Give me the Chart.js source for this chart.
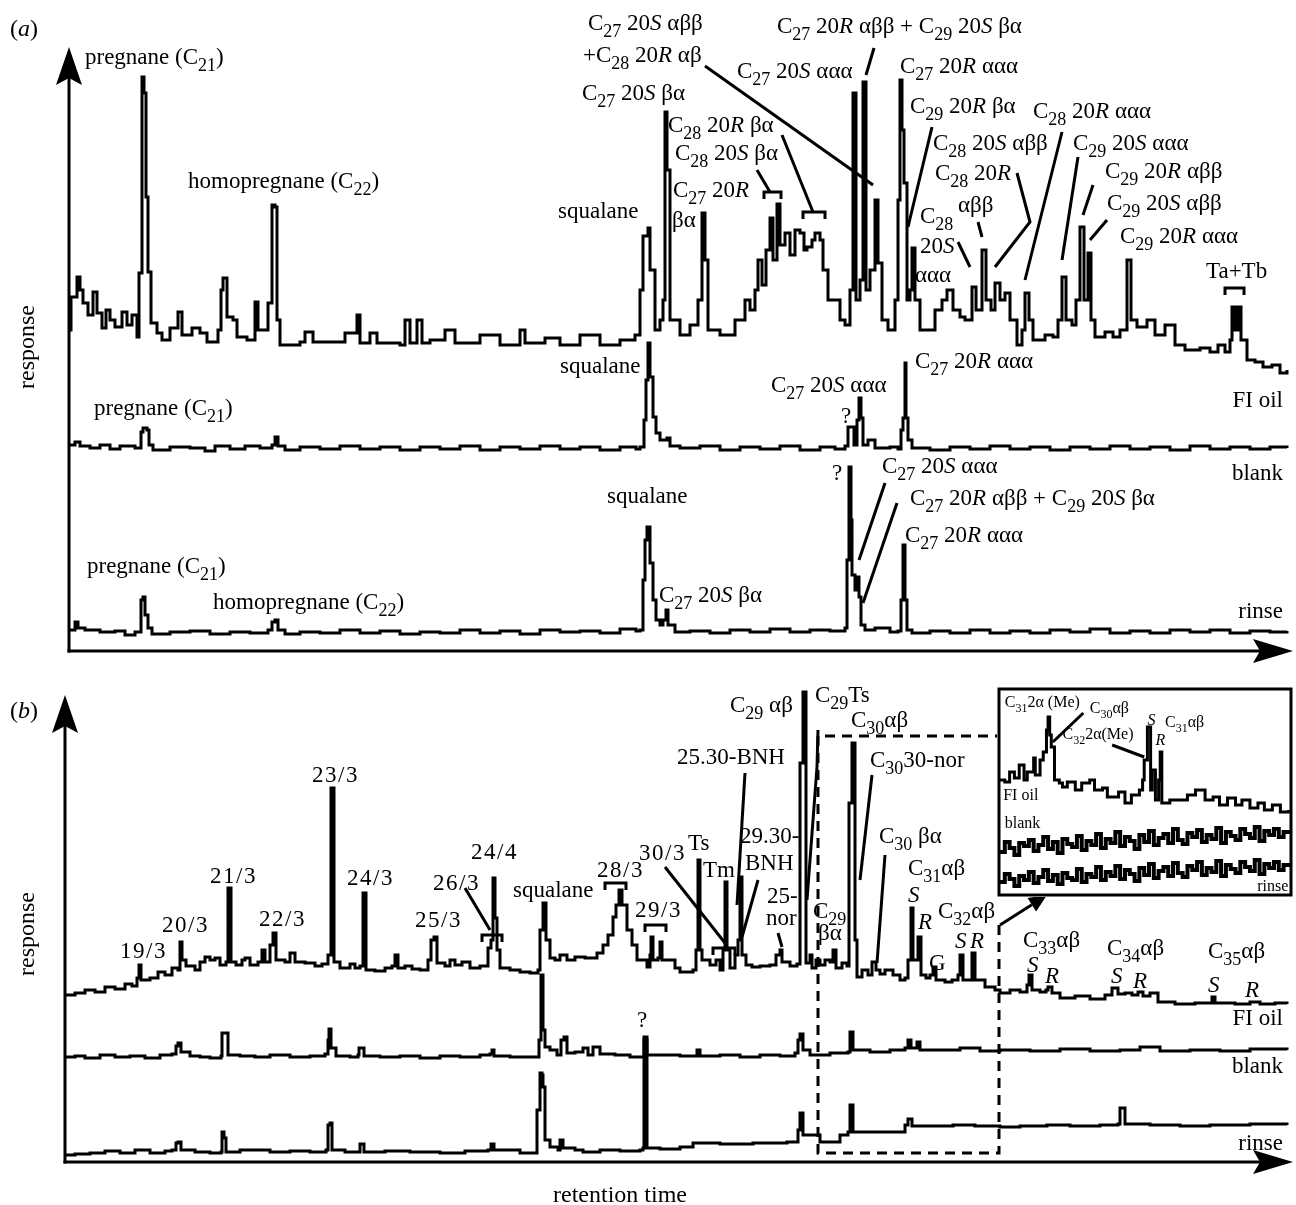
<!DOCTYPE html>
<html><head><meta charset="utf-8">
<script src="https://cdn.jsdelivr.net/npm/chart.js@4.4.1/dist/chart.umd.min.js"></script>
<style>
html,body{margin:0;padding:0;background:#fff;}
#wrap{position:relative;width:1296px;height:1205px;overflow:hidden;background:#fff;}
canvas{position:absolute;}
</style></head><body>
<div id="wrap">
<canvas id="ca" width="1296" height="668" style="left:0;top:0"></canvas>
<canvas id="cb" width="1296" height="537" style="left:0;top:668px"></canvas>
<canvas id="ci" width="298" height="212" style="left:996px;top:686px"></canvas>
</div>
<script>
// ---------- Panel (a): steranes, [retention time, response] ----------
const aOil = [[70,321],[71,354],[77,374],[80,361],[83,348],[88,336],[93,359],[97,338],[102,323],[106,341],[110,331],[115,324],[122,339],[127,326],[132,336],[137,314],[139,378],[142,574],[144,558],[146,454],[148,379],[151,328],[157,318],[162,311],[170,323],[178,339],[182,316],[192,323],[200,318],[207,309],[218,321],[221,361],[223,373],[227,334],[233,331],[237,314],[247,311],[255,349],[258,321],[268,348],[272,446],[275,444],[277,331],[280,306],[300,309],[305,319],[313,309],[333,309],[345,318],[357,336],[360,308],[370,318],[377,308],[400,306],[405,331],[410,308],[417,331],[422,308],[430,311],[445,321],[455,308],[480,316],[500,306],[520,321],[525,308],[545,313],[560,306],[580,316],[600,306],[620,311],[635,316],[640,361],[643,415],[648,423],[650,381],[655,321],[660,331],[663,351],[665,539],[667,481],[670,331],[680,316],[690,326],[698,351],[702,438],[705,391],[708,321],[720,316],[735,331],[745,351],[750,341],[755,361],[758,391],[762,366],[766,401],[770,433],[773,391],[777,447],[780,406],[785,418],[790,396],[795,421],[800,418],[804,401],[807,404],[812,411],[815,418],[820,411],[823,381],[828,351],[835,351],[840,331],[845,326],[850,361],[853,558],[856,351],[860,371],[863,569],[866,361],[870,381],[875,451],[878,388],[882,331],[888,321],[895,351],[898,451],[900,571],[902,521],[904,468],[907,351],[910,361],[912,403],[915,351],[920,321],[925,321],[935,341],[942,351],[947,361],[953,341],[960,334],[965,331],[972,364],[976,341],[982,401],[986,351],[991,341],[995,368],[1000,351],[1005,358],[1010,331],[1017,306],[1022,321],[1025,358],[1029,331],[1033,311],[1045,316],[1053,314],[1058,331],[1062,374],[1066,331],[1072,326],[1076,351],[1080,424],[1084,351],[1088,398],[1091,331],[1095,314],[1105,319],[1113,314],[1120,321],[1127,391],[1131,331],[1137,324],[1147,331],[1155,316],[1165,326],[1175,306],[1185,301],[1200,303],[1210,299],[1218,306],[1225,299],[1230,311],[1232,344],[1235,321],[1238,344],[1241,311],[1247,291],[1255,289],[1263,284],[1272,286],[1280,278],[1287,281]];
const aBlank = [[70,206],[75,209],[80,205],[90,203],[100,206],[110,202],[120,205],[135,203],[141,219],[143,223],[147,221],[149,206],[153,201],[170,204],[190,203],[205,200],[215,205],[230,202],[245,205],[260,203],[272,206],[275,214],[278,205],[285,201],[300,204],[320,202],[340,205],[360,202],[380,204],[400,201],[420,204],[440,202],[460,205],[480,201],[500,204],[520,202],[540,205],[560,202],[580,204],[600,201],[620,204],[636,202],[640,204],[644,231],[646,271],[648,308],[650,274],[653,234],[656,218],[660,211],[667,213],[670,205],[680,203],[700,205],[720,201],[740,204],[760,202],[780,205],[800,201],[820,204],[835,202],[845,205],[848,224],[852,224],[854,206],[857,231],[859,253],[861,233],[863,206],[868,211],[875,203],[890,204],[898,202],[901,221],[903,233],[905,288],[906,233],[908,211],[912,203],[930,201],[950,204],[970,202],[990,205],[1010,202],[1030,204],[1050,201],[1070,204],[1090,202],[1110,205],[1130,202],[1150,204],[1170,201],[1190,205],[1210,202],[1230,204],[1250,202],[1270,204],[1287,203]];
const aRinse = [[70,21],[75,29],[78,23],[85,21],[100,19],[115,20],[125,16],[135,19],[141,51],[143,54],[145,36],[148,23],[152,17],[170,19],[190,20],[210,17],[230,19],[250,18],[268,21],[272,29],[275,31],[278,21],[285,17],[300,19],[320,18],[340,21],[360,18],[380,20],[400,17],[420,19],[440,18],[460,21],[480,18],[500,20],[520,17],[540,21],[560,19],[580,20],[600,18],[620,22],[636,20],[640,21],[643,71],[645,111],[647,124],[650,88],[653,51],[656,31],[660,26],[663,31],[666,41],[668,26],[675,19],[690,20],[710,18],[730,21],[750,19],[770,22],[790,19],[810,21],[830,20],[845,23],[847,91],[849,184],[851,131],[852,76],[855,61],[857,74],[859,54],[861,26],[865,21],[875,23],[890,19],[898,20],[901,51],[903,106],[905,51],[907,21],[912,18],[930,20],[950,18],[970,21],[990,18],[1010,20],[1030,18],[1050,21],[1070,19],[1090,22],[1110,18],[1130,20],[1150,18],[1170,21],[1190,19],[1210,21],[1230,18],[1250,20],[1270,19],[1287,20]];

// ---------- Panel (b): terpanes / hopanes ----------
const bOil = [[66,167],[75,169],[85,172],[95,170],[105,175],[115,173],[125,178],[132,176],[137,184],[139,197],[141,182],[150,184],[158,190],[165,187],[172,194],[178,192],[180,220],[182,202],[186,196],[195,192],[200,200],[205,205],[210,202],[215,204],[220,197],[226,200],[228,274],[231,200],[236,197],[242,202],[245,204],[250,197],[258,200],[262,212],[265,200],[270,217],[273,229],[276,202],[285,200],[290,209],[295,200],[305,199],[315,196],[322,198],[328,207],[331,374],[334,200],[340,194],[350,198],[355,194],[360,196],[363,269],[366,192],[375,191],[385,194],[392,196],[395,207],[398,194],[405,196],[412,193],[420,192],[428,202],[431,222],[434,225],[437,199],[445,196],[450,202],[455,197],[462,200],[470,194],[480,196],[486,196],[488,214],[491,222],[493,284],[495,244],[497,212],[500,194],[510,192],[520,190],[530,189],[538,192],[540,232],[543,259],[546,222],[550,204],[555,202],[560,207],[567,202],[575,205],[585,204],[597,209],[603,217],[608,227],[613,245],[616,257],[619,272],[622,257],[627,232],[632,217],[637,202],[647,195],[650,207],[651,225],[653,202],[658,204],[660,220],[662,202],[670,202],[675,194],[680,190],[693,192],[696,212],[698,302],[700,212],[702,202],[710,197],[716,202],[720,192],[723,212],[725,280],[727,212],[730,194],[735,207],[738,222],[740,285],[742,207],[746,197],[752,195],[760,196],[770,197],[776,207],[780,212],[782,200],[790,196],[797,198],[800,399],[803,470],[806,199],[810,207],[812,194],[816,202],[820,197],[825,202],[830,200],[833,212],[836,194],[842,199],[847,196],[849,359],[852,419],[855,222],[857,185],[862,192],[868,187],[872,200],[876,192],[880,188],[885,192],[893,187],[900,182],[905,184],[908,202],[911,254],[913,202],[916,202],[918,225],[921,187],[926,184],[930,187],[933,195],[936,182],[945,180],[952,182],[958,187],[960,207],[963,182],[968,182],[972,209],[975,182],[985,175],[995,172],[1000,169],[1010,172],[1020,170],[1027,177],[1029,187],[1032,172],[1040,170],[1046,172],[1048,175],[1052,169],[1060,164],[1075,166],[1090,163],[1105,167],[1112,174],[1118,168],[1125,169],[1132,167],[1138,170],[1143,166],[1150,169],[1158,160],[1175,158],[1195,159],[1212,165],[1215,159],[1235,158],[1250,160],[1260,158],[1275,159],[1287,158]];
const bBlank = [[65,105],[75,106],[85,104],[100,107],[115,105],[130,106],[145,104],[160,107],[172,108],[176,116],[178,119],[181,110],[190,106],[200,105],[210,104],[221,106],[222,129],[227,129],[228,107],[240,106],[255,105],[270,107],[290,105],[310,106],[325,108],[328,122],[329,133],[331,114],[336,106],[350,105],[358,107],[359,114],[363,114],[364,106],[380,105],[400,106],[420,104],[440,106],[460,105],[480,107],[490,108],[492,112],[494,106],[510,105],[525,105],[537,105],[539,122],[541,187],[543,132],[545,115],[550,112],[557,107],[561,122],[564,125],[567,109],[575,110],[583,114],[588,107],[593,115],[600,108],[615,107],[630,105],[643,105],[644,125],[646,125],[647,107],[660,107],[680,106],[697,112],[700,106],[720,107],[740,105],[760,107],[780,106],[795,109],[798,122],[800,128],[803,112],[810,107],[830,109],[848,110],[850,130],[853,112],[870,110],[890,112],[905,114],[908,122],[911,114],[917,120],[920,112],[940,112],[960,114],[980,111],[1000,112],[1030,111],[1060,113],[1090,111],[1120,112],[1140,115],[1160,111],[1190,112],[1220,111],[1250,113],[1287,112]];
const bRinse = [[65,7],[75,8],[90,9],[105,11],[120,9],[135,12],[150,9],[165,11],[172,12],[176,19],[178,20],[181,12],[195,10],[210,9],[221,10],[222,30],[224,24],[226,10],[240,12],[255,12],[270,10],[290,11],[310,10],[326,12],[328,37],[330,39],[332,12],[345,10],[359,10],[360,18],[363,18],[364,10],[385,11],[410,10],[440,9],[465,11],[488,12],[491,18],[494,12],[510,12],[520,9],[535,9],[537,52],[540,89],[542,87],[543,75],[545,22],[550,15],[558,12],[560,22],[563,14],[575,12],[583,10],[600,12],[620,11],[640,12],[643,14],[644,122],[646,122],[647,14],[660,13],[680,15],[693,19],[720,18],[753,19],[787,20],[798,32],[800,49],[803,27],[820,20],[840,27],[848,30],[850,57],[853,30],[870,30],[887,30],[905,37],[908,43],[912,36],[930,36],[953,37],[975,36],[1000,35],[1020,36],[1047,37],[1070,36],[1100,37],[1118,38],[1120,54],[1124,54],[1125,38],[1150,37],[1180,36],[1210,37],[1250,38],[1287,37]];

// ---------- Inset (enlarged window of panel b) ----------
const iOil = [[818,112],[821,110],[824,120],[827,114],[830,127],[833,112],[835,120],[839,134],[840,117],[843,132],[845,140],[847,162],[848,175],[849,157],[850,145],[852,112],[855,109],[857,105],[860,110],[865,102],[869,109],[874,112],[877,102],[882,104],[885,95],[888,95],[892,100],[896,89],[900,97],[905,102],[907,112],[908,132],[910,165],[912,102],[913,122],[915,92],[917,112],[918,140],[919,89],[924,92],[930,92],[935,97],[940,102],[943,102],[946,92],[951,95],[955,87],[960,94],[965,87],[969,92],[974,84],[979,89],[983,82],[988,87],[993,80],[998,82]];
const iBlank = [[818,40],[821,50],[824,44],[827,37],[830,49],[833,46],[836,52],[839,41],[842,47],[845,55],[848,43],[851,50],[854,39],[857,53],[860,48],[863,45],[866,56],[869,42],[872,51],[875,47],[878,58],[881,44],[884,53],[887,49],[890,60],[893,46],[896,55],[899,51],[902,43],[905,57],[908,50],[911,61],[914,47],[917,54],[920,58],[923,49],[926,63],[929,52],[932,48],[935,59],[938,55],[941,62],[944,50],[947,57],[950,53],[953,64],[956,49],[959,60],[962,56],[965,52],[968,63],[971,58],[974,54],[977,65],[980,51],[983,61],[986,57],[989,63],[992,55],[995,60],[998,58]];
const iRinse = [[818,10],[821,18],[824,13],[827,6],[830,16],[833,12],[836,20],[839,9],[842,15],[845,22],[848,11],[851,17],[854,8],[857,19],[860,14],[863,12],[866,23],[869,10],[872,18],[875,15],[878,25],[881,12],[884,20],[887,16],[890,26],[893,13],[896,22],[899,18],[902,11],[905,24],[908,17],[911,28],[914,14],[917,21],[920,25],[923,16],[926,29],[929,19],[932,15],[935,26],[938,22],[941,30],[944,17],[947,24],[950,20],[953,31],[956,16],[959,27],[962,23],[965,19],[968,30],[971,25],[974,21],[977,32],[980,18],[983,28],[986,24],[989,30],[992,22],[995,27],[998,25]];

// ---------- Annotations (data coordinates) ----------
const aLabels = [
 [85,587,'pregnane (C_{21})'],[188,463,'homopregnane (C_{22})'],[558,433,'squalane'],
 [582,551,'C_{27} 20*S* βα'],[588,621,'C_{27} 20*S* αββ'],[583,589,'+C_{28} 20*R* αβ'],
 [668,519,'C_{28} 20*R* βα'],[675,491,'C_{28} 20*S* βα'],[673,454,'C_{27} 20*R*'],[672,424,'βα'],
 [777,618,'C_{27} 20*R* αββ + C_{29} 20*S* βα'],[737,573,'C_{27} 20*S* ααα'],[900,578,'C_{27} 20*R* ααα'],
 [910,538,'C_{29} 20*R* βα'],[933,501,'C_{28} 20*S* αββ'],[935,471,'C_{28} 20*R*'],[958,439,'αββ'],
 [920,428,'C_{28}'],[920,398,'20*S*'],[915,369,'ααα'],
 [1033,533,'C_{28} 20*R* ααα'],[1073,501,'C_{29} 20*S* ααα'],[1105,473,'C_{29} 20*R* αββ'],
 [1107,441,'C_{29} 20*S* αββ'],[1120,408,'C_{29} 20*R* ααα'],[1206,373,'Ta+Tb'],
 [1283,244,'FI oil','r'],[1283,171,'blank','r'],[1283,33,'rinse','r'],
 [94,236,'pregnane (C_{21})'],[560,278,'squalane'],[771,259,'C_{27} 20*S* ααα'],[841,228,'?'],[915,283,'C_{27} 20*R* ααα'],
 [832,171,'?'],[882,178,'C_{27} 20*S* ααα'],[910,146,'C_{27} 20*R* αββ + C_{29} 20*S* βα'],[905,109,'C_{27} 20*R* ααα'],
 [607,148,'squalane'],[659,49,'C_{27} 20*S* βα'],[87,78,'pregnane (C_{21})'],[213,42,'homopregnane (C_{22})']
];
const aLeaders = [
 [[705,585],[873,466]],[[874,603],[866,576]],[[757,481],[770,459]],
 [[764,452],[764,459],[781,459],[781,452]],[[782,516],[813,439]],[[803,432],[803,439],[825,439],[825,432]],
 [[932,524],[908,424]],[[1062,519],[1025,371]],[[1017,478],[1030,429],[995,384]],[[978,429],[982,414]],
 [[958,409],[970,384]],[[1078,494],[1062,391]],[[1093,466],[1083,436]],[[1107,431],[1090,411]],
 [[1225,356],[1225,363],[1244,363],[1244,356]],[[885,168],[859,91]],[[897,148],[863,48]]
];
const bLabels = [
 [120,204,'19/3'],[162,230,'20/3'],[210,279,'21/3'],[259,236,'22/3'],[312,380,'23/3'],[347,277,'24/3'],
 [415,235,'25/3'],[433,272,'26/3'],[471,303,'24/4'],[513,265,'squalane'],[597,285,'28/3'],[635,245,'29/3'],
 [639,302,'30/3'],[688,312,'Ts'],[703,285,'Tm'],[677,398,'25.30-BNH'],[740,319,'29.30-'],[745,292,'BNH'],
 [767,259,'25-'],[766,237,'nor'],[730,450,'C_{29} αβ'],[815,460,'C_{29}Ts'],[851,435,'C_{30}αβ'],
 [870,395,'C_{30}30-nor'],[879,319,'C_{30} βα'],[908,287,'C_{31}αβ'],[908,260,'*S*'],[918,233,'*R*'],
 [813,244,'C_{29}'],[818,222,'βα'],[929,192,'G'],[938,244,'C_{32}αβ'],[955,214,'*S*'],[970,214,'*R*'],
 [1023,215,'C_{33}αβ'],[1027,190,'*S*'],[1045,179,'*R*'],[1107,207,'C_{34}αβ'],[1111,179,'*S*'],[1133,174,'*R*'],
 [1208,204,'C_{35}αβ'],[1208,170,'*S*'],[1245,165,'*R*'],
 [1283,137,'FI oil','r'],[1283,89,'blank','r'],[1283,12,'rinse','r'],[642,135,'?','c']
];
const bLeaders = [
 [[465,274],[490,232]],[[482,220],[482,227],[502,227],[502,220]],[[605,272],[605,279],[626,279],[626,272]],
 [[645,230],[645,237],[666,237],[666,230]],[[665,295],[725,219]],[[713,207],[713,214],[735,214],[735,207]],
 [[745,389],[737,257]],[[758,282],[742,225]],[[778,229],[782,215]],[[818,432],[817,395],[807,262]],
 [[872,387],[860,282]],[[885,307],[877,199]]
];
const bZoomBox = [[999,237],[999,9],[818,9],[818,426],[999,426]];
const bZoomArrow = [[1000,237],[1047,267]];
const iLabels = [
 [821,185,'C_{31}2α (Me)'],[874,179,'C_{30}αβ'],[857,153,'C_{32}2α(Me)'],[910,167,'*S*'],[915,147,'*R*'],
 [921,165,'C_{31}αβ'],[820,92,'FI oil'],[821,64,'blank'],[998,1,'rinse','r']
];
const iLeaders = [[[870,179],[851,150]],[[888,147],[908,135]]];

// ---------- drawing helpers ----------
const FONT = '"Liberation Serif","Times New Roman",serif';
function segs(s){
  const out=[]; let buf='', it=false, i=0;
  const push=()=>{ if(buf){ out.push({t:buf,it:it,sub:false}); buf=''; } };
  while(i<s.length){
    const c=s[i];
    if(c==='_' && s[i+1]==='{'){ push(); const j=s.indexOf('}',i); out.push({t:s.slice(i+2,j),it:it,sub:true}); i=j+1; continue; }
    if(c==='*'){ push(); it=!it; i++; continue; }
    buf+=c; i++;
  }
  push(); return out;
}
function fnt(g,size){ return (g.it?'italic ':'')+(g.sub?Math.round(size*0.78):size)+'px '+FONT; }
function drawRich(ctx,x,y,s,size,align){
  const gs=segs(s); let w=0;
  ctx.letterSpacing = /^\d+\/\d+$/.test(s) ? '1.5px' : '0px';
  gs.forEach(g=>{ ctx.font=fnt(g,size); g.w=ctx.measureText(g.t).width; w+=g.w; });
  let cx = align==='r' ? x-w : (align==='c' ? x-w/2 : x);
  gs.forEach(g=>{ ctx.font=fnt(g,size); ctx.fillText(g.t,cx,y+(g.sub?size*0.3:0)); cx+=g.w; });
  ctx.letterSpacing='0px';
}
function drawAxes(ctx,ca){
  ctx.lineWidth=3; ctx.lineCap='butt';
  ctx.beginPath(); ctx.moveTo(ca.left,ca.bottom+1.5); ctx.lineTo(ca.left,ca.top+25); ctx.stroke();
  ctx.beginPath(); ctx.moveTo(ca.left-1.5,ca.bottom); ctx.lineTo(ca.right-20,ca.bottom); ctx.stroke();
  ctx.beginPath(); ctx.moveTo(ca.left,ca.top); ctx.lineTo(ca.left-13,ca.top+38); ctx.lineTo(ca.left,ca.top+31); ctx.lineTo(ca.left+13,ca.top+38); ctx.closePath(); ctx.fill();
  const tx=ca.right+3;
  ctx.beginPath(); ctx.moveTo(tx,ca.bottom); ctx.lineTo(tx-40,ca.bottom-12); ctx.lineTo(tx-33,ca.bottom); ctx.lineTo(tx-40,ca.bottom+12); ctx.closePath(); ctx.fill();
}
function polyline(ctx,pts,P){
  ctx.beginPath(); pts.forEach((p,i)=>{ const q=P(p); i?ctx.lineTo(q[0],q[1]):ctx.moveTo(q[0],q[1]); }); ctx.stroke();
}
function deco(name,labels,leaders,size,after){
  return { id:'deco'+name, afterDatasetsDraw(chart){
    const ctx=chart.ctx, xs=chart.scales.x, ys=chart.scales.y;
    const P=p=>[xs.getPixelForValue(p[0]), ys.getPixelForValue(p[1])];
    ctx.save(); ctx.strokeStyle='#000'; ctx.fillStyle='#000'; ctx.lineWidth=3; ctx.lineJoin='miter';
    leaders.forEach(l=>polyline(ctx,l,P));
    ctx.textBaseline='alphabetic'; ctx.textAlign='left';
    labels.forEach(l=>{ const q=P(l); drawRich(ctx,q[0],q[1],l[2],size,l[3]||'l'); });
    if(after) after(chart,ctx,P);
    ctx.restore();
  }};
}
function mk(id,sets,widths,xr,yr,pad,plugins){
  return new Chart(document.getElementById(id),{
    type:'line',
    data:{datasets:sets.map((d,i)=>({data:d.map(p=>({x:p[0],y:p[1]})),borderColor:'#000',borderWidth:widths[i],pointRadius:0,stepped:true,tension:0,fill:false,clip:false}))},
    options:{responsive:false,animation:false,devicePixelRatio:1,events:[],
      layout:{padding:pad},
      plugins:{legend:{display:false},tooltip:{enabled:false}},
      scales:{x:{type:'linear',min:xr[0],max:xr[1],display:false},y:{type:'linear',min:yr[0],max:yr[1],display:false}}},
    plugins:plugins
  });
}

// ---------- charts ----------
mk('ca',[aOil,aBlank,aRinse],[3,3,3],[69,1290],[0,604],{left:69,right:6,top:47,bottom:17},
 [deco('a',aLabels,aLeaders,23,(chart,ctx)=>{
   drawAxes(ctx,chart.chartArea);
   drawRich(ctx,10,36,'(*a*)',24,'l');
   ctx.save(); ctx.translate(34,347); ctx.rotate(-Math.PI/2); drawRich(ctx,0,0,'response',24,'c'); ctx.restore();
 })]);

mk('cb',[bOil,bBlank,bRinse],[3,3,3],[65,1290],[0,467],{left:65,right:6,top:27,bottom:43},
 [deco('b',bLabels,bLeaders,23,(chart,ctx,P)=>{
   drawAxes(ctx,chart.chartArea);
   drawRich(ctx,10,50,'(*b*)',24,'l');
   ctx.save(); ctx.translate(34,266); ctx.rotate(-Math.PI/2); drawRich(ctx,0,0,'response',24,'c'); ctx.restore();
   drawRich(ctx,620,534,'retention time',24,'c');
   ctx.setLineDash([10,7]); polyline(ctx,bZoomBox,P); ctx.setLineDash([]);
   const a=P(bZoomArrow[0]), b=P(bZoomArrow[1]);
   const ang=Math.atan2(b[1]-a[1],b[0]-a[0]), L=18, W=8;
   const bx=b[0]-L*Math.cos(ang), by=b[1]-L*Math.sin(ang);
   ctx.beginPath(); ctx.moveTo(a[0],a[1]); ctx.lineTo(bx,by); ctx.stroke();
   ctx.beginPath(); ctx.moveTo(b[0],b[1]);
   ctx.lineTo(bx+W*Math.sin(ang),by-W*Math.cos(ang)); ctx.lineTo(bx-W*Math.sin(ang),by+W*Math.cos(ang)); ctx.closePath(); ctx.fill();
 })]);

mk('ci',[iOil,iBlank,iRinse],[3,4,4],[818,999],[0,202],{left:4,right:4,top:4,bottom:6},
 [{id:'insetBg',beforeDatasetsDraw(chart){ const c=chart.ctx, ca=chart.chartArea; c.save(); c.fillStyle='#fff'; c.fillRect(ca.left-3,ca.top-3,ca.right-ca.left+6,ca.bottom-ca.top+8); c.restore(); }},
  deco('i',iLabels,iLeaders,16,(chart,ctx)=>{
   const ca=chart.chartArea; ctx.lineWidth=3;
   ctx.strokeRect(ca.left-1,ca.top-1,ca.right-ca.left+2,ca.bottom-ca.top+4);
 })]);
</script>
</body></html>
